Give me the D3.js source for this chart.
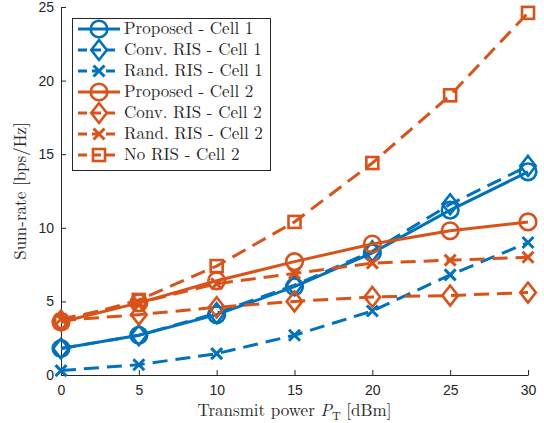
<!DOCTYPE html>
<html>
<head>
<meta charset="utf-8">
<script src="https://cdn.jsdelivr.net/npm/d3@7"></script>
<style>
  body { margin: 0; background: #fff; }
  svg { display: block; }
</style>
</head>
<body>
<svg id="chart" width="544" height="423"></svg>
<script>
const powers = [0, 5, 10, 15, 20, 25, 30];
const proposedCell1 = [1.8, 2.7, 4.1, 6.0, 8.3, 11.2, 13.8];
const convCell1 = [1.8, 2.7, 4.2, 6.1, 8.4, 11.6, 14.2];
const randCell1 = [0.3, 0.7, 1.45, 2.7, 4.35, 6.8, 9.0];
const proposedCell2 = [3.6, 4.9, 6.4, 7.7, 8.9, 9.8, 10.4];
const convCell2 = [3.7, 4.1, 4.6, 5.0, 5.3, 5.4, 5.6];
const randCell2 = [3.8, 4.9, 6.2, 6.9, 7.6, 7.8, 8.0];
const noRisCell2 = [3.6, 5.1, 7.4, 10.4, 14.4, 19.0, 24.6];
const xTicks = [0, 5, 10, 15, 20, 25, 30];
const yTicks = [0, 5, 10, 15, 20, 25];

const BLUE = '#0072BD';
const ORANGE = '#D95319';

const series = [
  { name: 'Proposed - Cell 1', values: proposedCell1, color: BLUE, dashed: false, marker: 'circle' },
  { name: 'Conv. RIS - Cell 1', values: convCell1, color: BLUE, dashed: true, marker: 'diamond' },
  { name: 'Rand. RIS - Cell 1', values: randCell1, color: BLUE, dashed: true, marker: 'cross' },
  { name: 'Proposed - Cell 2', values: proposedCell2, color: ORANGE, dashed: false, marker: 'circle' },
  { name: 'Conv. RIS - Cell 2', values: convCell2, color: ORANGE, dashed: true, marker: 'diamond' },
  { name: 'Rand. RIS - Cell 2', values: randCell2, color: ORANGE, dashed: true, marker: 'cross' },
  { name: 'No RIS - Cell 2', values: noRisCell2, color: ORANGE, dashed: true, marker: 'square' },
];

const margin = { left: 61, right: 16, top: 7, bottom: 48 };
const width = 544, height = 423;
const svg = d3.select('#chart');

const x = d3.scaleLinear().domain([0, 30]).range([margin.left, width - margin.right]);
const y = d3.scaleLinear().domain([0, 25]).range([height - margin.bottom, margin.top]);

const AXIS = '#262626';
const SANS = '"Liberation Sans", Arial, sans-serif';
const SERIF = '"Latin Modern Roman", "CMU Serif", "Liberation Serif", serif';

// axes
const xAxis = svg.append('g')
  .attr('transform', `translate(0,${y(0)})`)
  .call(d3.axisBottom(x).tickValues(xTicks).tickSizeInner(-5).tickSizeOuter(0).tickPadding(10));
const yAxis = svg.append('g')
  .attr('transform', `translate(${x(0)},0)`)
  .call(d3.axisLeft(y).tickValues(yTicks).tickSizeInner(-5).tickSizeOuter(0).tickPadding(7));
[xAxis, yAxis].forEach((g) => {
  g.attr('font-family', SANS).attr('font-size', 14);
  g.select('.domain').attr('stroke', AXIS).attr('stroke-width', 1);
  g.selectAll('.tick line').attr('stroke', AXIS);
  g.selectAll('.tick text').attr('fill', AXIS);
});

const line = d3.line().x((d, i) => x(powers[i])).y((d) => y(d));

const drawMarker = (g, type, cx, cy, color) => {
  if (type === 'circle') {
    g.append('circle').attr('cx', cx).attr('cy', cy).attr('r', 8.3)
      .attr('fill', 'none').attr('stroke', color).attr('stroke-width', 2.6);
  } else if (type === 'diamond') {
    const r = 10;
    g.append('path')
      .attr('d', `M${cx},${cy - r}L${cx + r * 0.78},${cy}L${cx},${cy + r}L${cx - r * 0.78},${cy}Z`)
      .attr('fill', 'none').attr('stroke', color).attr('stroke-width', 2.6);
  } else if (type === 'cross') {
    const r = 5.5;
    g.append('path')
      .attr('d', `M${cx - r},${cy - r}L${cx + r},${cy + r}M${cx - r},${cy + r}L${cx + r},${cy - r}`)
      .attr('fill', 'none').attr('stroke', color).attr('stroke-width', 3);
  } else if (type === 'square') {
    const r = 6;
    g.append('rect').attr('x', cx - r).attr('y', cy - r).attr('width', 2 * r).attr('height', 2 * r)
      .attr('fill', 'none').attr('stroke', color).attr('stroke-width', 2.6);
  }
};

const plot = svg.append('g');
series.forEach((s) => {
  plot.append('path')
    .datum(s.values)
    .attr('d', line)
    .attr('fill', 'none')
    .attr('stroke', s.color)
    .attr('stroke-width', 3)
    .attr('stroke-dasharray', s.dashed ? '15,8' : null);
  s.values.forEach((v, i) => drawMarker(plot, s.marker, x(powers[i]), y(v), s.color));
});

// axis labels
svg.append('text')
  .attr('font-family', SERIF).attr('font-size', 17)
  .attr('x', (x(0) + x(30)) / 2).attr('y', 416)
  .attr('text-anchor', 'middle')
  .attr('fill', AXIS)
  .html('Transmit power <tspan font-style="italic">P</tspan><tspan dy="4" font-size="12">T</tspan><tspan dy="-4"> [dBm]</tspan>');

svg.append('text')
  .attr('font-family', SERIF).attr('font-size', 17)
  .attr('transform', `translate(26,${(y(0) + y(25)) / 2}) rotate(-90)`)
  .attr('text-anchor', 'middle')
  .attr('fill', AXIS)
  .text('Sum-rate [bps/Hz]');

// legend
const legend = svg.append('g');
legend.append('rect')
  .attr('x', 72.5).attr('y', 18.5).attr('width', 198).attr('height', 152)
  .attr('fill', '#fff').attr('stroke', AXIS).attr('stroke-width', 1);
series.forEach((s, i) => {
  const ly = 29 + i * 21;
  legend.append('line')
    .attr('x1', 78).attr('x2', 120).attr('y1', ly).attr('y2', ly)
    .attr('stroke', s.color).attr('stroke-width', 3)
    .attr('stroke-dasharray', s.dashed ? '9,5' : null);
  drawMarker(legend, s.marker, 99, ly, s.color);
  legend.append('text')
    .attr('font-family', SERIF).attr('font-size', 17)
    .attr('x', 124).attr('y', ly + 5)
    .attr('fill', AXIS)
    .text(s.name);
});
</script>
</body>
</html>
